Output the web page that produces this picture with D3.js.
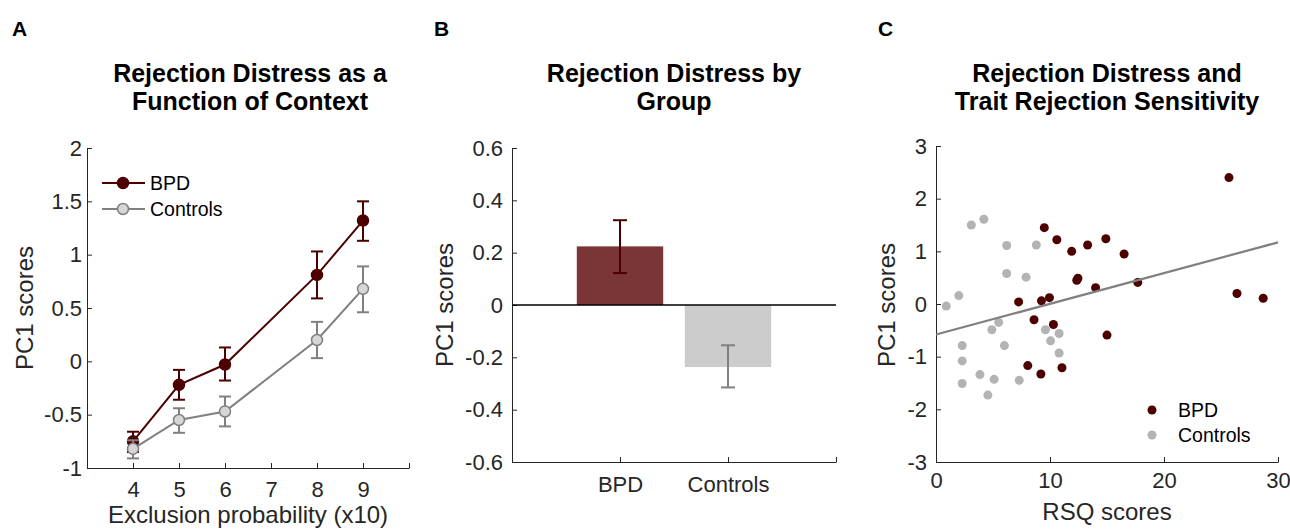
<!DOCTYPE html>
<head>
<meta charset="utf-8">
<script src="https://d3js.org/d3.v7.min.js"></script>
<style>
  body { margin: 0; background: #fff; }
  text { font-family: "Liberation Sans", Arial, sans-serif; fill: #262626; }
  .title { font-weight: bold; font-size: 25px; fill: #000; }
  .panel { font-weight: bold; font-size: 21px; fill: #000; }
  .tick text { font-size: 22px; }
  .lab { font-size: 24px; }
  .leg { font-size: 19.5px; fill: #000; }
</style>
</head>
<body>
<svg width="1290" height="530"></svg>
<script>
// Panel A data: exclusion probability (x10)
var probs = [4, 5, 6, 8, 9];
var bpdMean = [-0.75, -0.22, -0.03, 0.81, 1.32];
var bpdLo   = [-0.85, -0.36, -0.18, 0.59, 1.13];
var bpdHi   = [-0.66, -0.08, 0.13, 1.03, 1.50];
var ctlMean = [-0.82, -0.55, -0.47, 0.20, 0.68];
var ctlLo   = [-0.91, -0.67, -0.61, 0.03, 0.46];
var ctlHi   = [-0.74, -0.44, -0.33, 0.37, 0.89];

// Panel B data
var groups = ["BPD", "Controls"];
var groupMean = [0.224, -0.237];
var groupLo   = [0.122, -0.315];
var groupHi   = [0.324, -0.154];

// Panel C data: RSQ scores vs PC1
var bpdRsq = [25.7, 9.5, 10.6, 11.9, 13.3, 14.9, 16.5, 12.35, 12.45, 14.0, 17.7, 7.25, 9.25, 9.95, 8.6, 10.3, 15.0, 8.05, 9.2, 11.05, 26.4, 28.7];
var bpdPc1 = [2.40, 1.45, 1.22, 1.00, 1.12, 1.24, 0.95, 0.45, 0.49, 0.31, 0.41, 0.04, 0.06, 0.12, -0.30, -0.39, -0.59, -1.17, -1.33, -1.21, 0.20, 0.11];
var ctlRsq = [0.9, 2.0, 3.1, 4.2, 6.2, 8.8, 6.2, 7.9, 5.5, 4.9, 6.0, 2.3, 2.3, 2.3, 3.85, 5.1, 4.55, 7.3, 9.6, 10.05, 10.8, 10.8];
var ctlPc1 = [-0.04, 0.16, 1.50, 1.61, 1.11, 1.12, 0.58, 0.51, -0.35, -0.49, -0.79, -0.79, -1.08, -1.51, -1.34, -1.43, -1.73, -1.45, -0.49, -0.70, -0.56, -0.93];
var fitX = [0, 30];
var fitY = [-0.58, 1.17];

var dark = "#4d0000", barRed = "#7a3636", gray = "#808080", lightGray = "#d6d6d6", axisCol = "#262626";
var plain = function(d) { return String(d); };

var svg = d3.select("svg");

function styleAxis(g) {
  g.selectAll("path.domain").attr("stroke", axisCol);
  g.selectAll(".tick line").attr("stroke", axisCol);
  g.selectAll(".tick text").attr("fill", axisCol);
}

// ---------- Panel A ----------
var xA = d3.scaleLinear().domain([3, 10]).range([87, 409]);
var yA = d3.scaleLinear().domain([-1, 2]).range([468, 148]);

svg.append("g").attr("transform", "translate(0,468)")
  .call(d3.axisBottom(xA).tickValues([4, 5, 6, 7, 8, 9, 10]).tickFormat(function(d) { return d < 10 ? plain(d) : ""; }).tickSize(-5).tickPadding(13).tickSizeOuter(0))
  .call(styleAxis);
svg.append("g").attr("transform", "translate(87,0)")
  .call(d3.axisLeft(yA).tickValues([-1, -0.5, 0, 0.5, 1, 1.5, 2]).tickFormat(plain).tickSize(-5).tickPadding(5).tickSizeOuter(0))
  .call(styleAxis);

function series(mean, lo, hi, lineCol, fill) {
  var g = svg.append("g");
  var line = d3.line().x(function(d, i) { return xA(probs[i]); }).y(function(d) { return yA(d); });
  g.append("path").datum(mean).attr("d", line).attr("fill", "none").attr("stroke", lineCol).attr("stroke-width", 2);
  probs.forEach(function(p, i) {
    var x = xA(p);
    g.append("line").attr("x1", x).attr("x2", x).attr("y1", yA(lo[i])).attr("y2", yA(hi[i])).attr("stroke", lineCol).attr("stroke-width", 2);
    [lo[i], hi[i]].forEach(function(v) {
      g.append("line").attr("x1", x - 6).attr("x2", x + 6).attr("y1", yA(v)).attr("y2", yA(v)).attr("stroke", lineCol).attr("stroke-width", 2);
    });
    g.append("circle").attr("cx", x).attr("cy", yA(mean[i])).attr("r", 5.5).attr("fill", fill).attr("stroke", lineCol).attr("stroke-width", 1.5);
  });
}
series(bpdMean, bpdLo, bpdHi, dark, dark);
series(ctlMean, ctlLo, ctlHi, gray, lightGray);

// legend A
[["BPD", dark, dark, 183], ["Controls", gray, lightGray, 209]].forEach(function(l) {
  svg.append("line").attr("x1", 102).attr("x2", 145).attr("y1", l[3]).attr("y2", l[3]).attr("stroke", l[1]).attr("stroke-width", 2);
  svg.append("circle").attr("cx", 123).attr("cy", l[3]).attr("r", 5.5).attr("fill", l[2]).attr("stroke", l[1]).attr("stroke-width", 1.5);
  svg.append("text").attr("class", "leg").attr("x", 150).attr("y", l[3] + 7).text(l[0]);
});

svg.append("text").attr("class", "lab").attr("transform", "translate(33,308) rotate(-90)").attr("text-anchor", "middle").text("PC1 scores");
svg.append("text").attr("class", "lab").attr("x", 248).attr("y", 523).attr("text-anchor", "middle").text("Exclusion probability (x10)");
svg.append("text").attr("class", "title").attr("x", 250).attr("y", 82).attr("text-anchor", "middle").text("Rejection Distress as a");
svg.append("text").attr("class", "title").attr("x", 250).attr("y", 110).attr("text-anchor", "middle").text("Function of Context");
svg.append("text").attr("class", "panel").attr("x", 12).attr("y", 36).text("A");

// ---------- Panel B ----------
var xB = d3.scaleLinear().domain([0, 3]).range([512, 836]);
var yB = d3.scaleLinear().domain([-0.6, 0.6]).range([462, 148]);

svg.append("g").attr("transform", "translate(0,462)")
  .call(d3.axisBottom(xB).tickValues([1, 2, 3]).tickFormat(function(d) { return groups[d - 1] || ""; }).tickSize(-5).tickPadding(14).tickSizeOuter(0))
  .call(styleAxis);
svg.append("g").attr("transform", "translate(512,0)")
  .call(d3.axisLeft(yB).tickValues([-0.6, -0.4, -0.2, 0, 0.2, 0.4, 0.6]).tickFormat(plain).tickSize(-5).tickPadding(9).tickSizeOuter(0))
  .call(styleAxis);

var barCols = [barRed, "#cccccc"], errCols = [dark, gray];
groups.forEach(function(gname, i) {
  var c = i + 1;
  svg.append("rect").attr("x", xB(c - 0.4)).attr("width", xB(c + 0.4) - xB(c - 0.4))
    .attr("y", yB(Math.max(0, groupMean[i]))).attr("height", Math.abs(yB(groupMean[i]) - yB(0)))
    .attr("fill", barCols[i]);
});
svg.append("line").attr("x1", xB(0)).attr("x2", xB(3)).attr("y1", yB(0)).attr("y2", yB(0)).attr("stroke", "#000").attr("stroke-width", 1.5);
groups.forEach(function(gname, i) {
  var x = xB(i + 1);
  svg.append("line").attr("x1", x).attr("x2", x).attr("y1", yB(groupLo[i])).attr("y2", yB(groupHi[i])).attr("stroke", errCols[i]).attr("stroke-width", 2);
  [groupLo[i], groupHi[i]].forEach(function(v) {
    svg.append("line").attr("x1", x - 7).attr("x2", x + 7).attr("y1", yB(v)).attr("y2", yB(v)).attr("stroke", errCols[i]).attr("stroke-width", 2);
  });
});

svg.append("text").attr("class", "lab").attr("transform", "translate(453,305) rotate(-90)").attr("text-anchor", "middle").text("PC1 scores");
svg.append("text").attr("class", "title").attr("x", 674).attr("y", 82).attr("text-anchor", "middle").text("Rejection Distress by");
svg.append("text").attr("class", "title").attr("x", 674).attr("y", 110).attr("text-anchor", "middle").text("Group");
svg.append("text").attr("class", "panel").attr("x", 434).attr("y", 36).text("B");

// ---------- Panel C ----------
var xC = d3.scaleLinear().domain([0, 30]).range([936, 1278]);
var yC = d3.scaleLinear().domain([-3, 3]).range([462, 146]);

svg.append("g").attr("transform", "translate(0,462)")
  .call(d3.axisBottom(xC).tickValues([0, 10, 20, 30]).tickFormat(plain).tickSize(-5).tickPadding(10).tickSizeOuter(0))
  .call(styleAxis);
svg.append("g").attr("transform", "translate(936,0)")
  .call(d3.axisLeft(yC).tickValues([-3, -2, -1, 0, 1, 2, 3]).tickFormat(plain).tickSize(-5).tickPadding(9).tickSizeOuter(0))
  .call(styleAxis);

svg.append("g").selectAll("circle").data(ctlRsq).enter().append("circle")
  .attr("cx", function(d) { return xC(d); }).attr("cy", function(d, i) { return yC(ctlPc1[i]); })
  .attr("r", 4.5).attr("fill", "#b3b3b3");
svg.append("g").selectAll("circle").data(bpdRsq).enter().append("circle")
  .attr("cx", function(d) { return xC(d); }).attr("cy", function(d, i) { return yC(bpdPc1[i]); })
  .attr("r", 4.5).attr("fill", dark);
svg.append("line").attr("x1", xC(fitX[0])).attr("x2", xC(fitX[1])).attr("y1", yC(fitY[0])).attr("y2", yC(fitY[1]))
  .attr("stroke", gray).attr("stroke-width", 2.2);

[["BPD", dark, 410], ["Controls", "#b3b3b3", 435]].forEach(function(l) {
  svg.append("circle").attr("cx", 1152).attr("cy", l[2]).attr("r", 4.5).attr("fill", l[1]);
  svg.append("text").attr("class", "leg").attr("x", 1178).attr("y", l[2] + 7).text(l[0]);
});

svg.append("text").attr("class", "lab").attr("transform", "translate(895,305) rotate(-90)").attr("text-anchor", "middle").text("PC1 scores");
svg.append("text").attr("class", "lab").attr("x", 1107).attr("y", 520).attr("text-anchor", "middle").text("RSQ scores");
svg.append("text").attr("class", "title").attr("x", 1107).attr("y", 82).attr("text-anchor", "middle").text("Rejection Distress and");
svg.append("text").attr("class", "title").attr("x", 1107).attr("y", 110).attr("text-anchor", "middle").text("Trait Rejection Sensitivity");
svg.append("text").attr("class", "panel").attr("x", 878).attr("y", 36).text("C");
</script>
</body>
</html>
